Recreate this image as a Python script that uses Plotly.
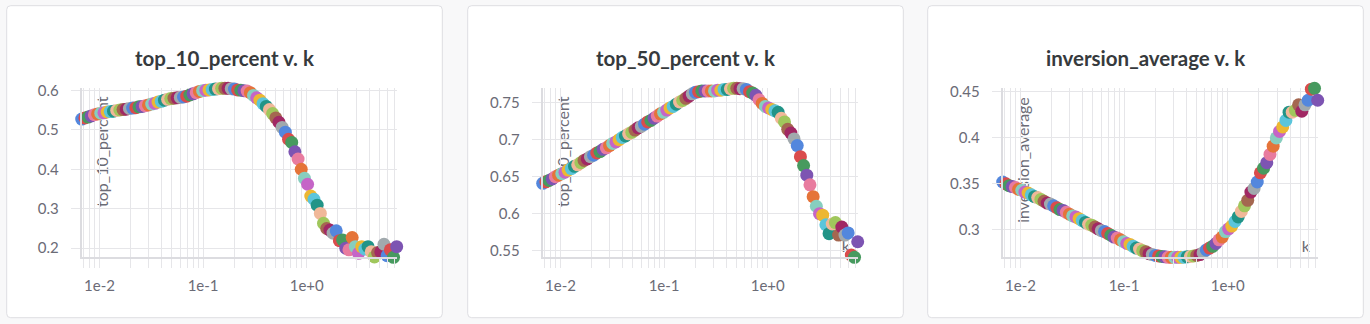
import math
import plotly.graph_objects as go

# ---------------- data ----------------
K = [0.006738, 0.007232, 0.007761, 0.00833, 0.00894, 0.009595, 0.0103, 0.01105, 0.01186, 0.01273,
     0.01366, 0.01467, 0.01574, 0.01689, 0.01813, 0.01946, 0.02089, 0.02242, 0.02406, 0.02582,
     0.02771, 0.02974, 0.03192, 0.03426, 0.03677, 0.03947, 0.04236, 0.04546, 0.04879, 0.05237,
     0.0562, 0.06032, 0.06474, 0.06948, 0.07457, 0.08004, 0.0859, 0.0922, 0.09895, 0.1062,
     0.114, 0.1223, 0.1313, 0.1409, 0.1512, 0.1623, 0.1742, 0.187, 0.2007, 0.2154,
     0.2312, 0.2481, 0.2663, 0.2858, 0.3067, 0.3292, 0.3533, 0.3792, 0.407, 0.4368,
     0.4688, 0.5032, 0.54, 0.5796, 0.622, 0.6676, 0.7165, 0.769, 0.8254, 0.8858,
     0.9508, 1.02, 1.095, 1.175, 1.262, 1.354, 1.453, 1.56, 1.674, 1.797,
     1.928, 2.069, 2.221, 2.384, 2.558, 2.746, 2.947, 3.163, 3.395, 3.643,
     3.91, 4.197, 4.504, 4.834, 5.189, 5.569, 5.977, 6.415, 6.885, 7.389]

TOP_10_PERCENT = [
    0.527, 0.530, 0.532, 0.535, 0.538, 0.540, 0.542, 0.543, 0.545, 0.546,
    0.547, 0.549, 0.550, 0.551, 0.552, 0.554, 0.555, 0.556, 0.558, 0.559,
    0.561, 0.563, 0.565, 0.567, 0.570, 0.572, 0.575, 0.577, 0.579, 0.580,
    0.581, 0.582, 0.583, 0.585, 0.588, 0.591, 0.594, 0.597, 0.599, 0.600,
    0.601, 0.602, 0.603, 0.604, 0.605, 0.605, 0.605, 0.604, 0.603, 0.601,
    0.600, 0.599, 0.598, 0.594, 0.587, 0.581, 0.575, 0.566, 0.559, 0.551,
    0.541, 0.530, 0.519, 0.506, 0.494, 0.476, 0.468, 0.444, 0.426, 0.400,
    0.377, 0.362, 0.332, 0.324, 0.309, 0.288, 0.263, 0.250, 0.246, 0.238,
    0.244, 0.219, 0.221, 0.200, 0.196, 0.227, 0.204, 0.187, 0.204, 0.198,
    0.204, 0.191, 0.178, 0.189, 0.191, 0.210, 0.181, 0.196, 0.177, 0.204]

TOP_50_PERCENT = [
    0.641, 0.643, 0.645, 0.647, 0.650, 0.652, 0.654, 0.656, 0.659, 0.661,
    0.664, 0.666, 0.669, 0.672, 0.674, 0.677, 0.679, 0.682, 0.684, 0.687,
    0.689, 0.692, 0.695, 0.697, 0.700, 0.703, 0.705, 0.708, 0.710, 0.713,
    0.716, 0.718, 0.721, 0.724, 0.726, 0.729, 0.732, 0.735, 0.737, 0.740,
    0.743, 0.745, 0.748, 0.751, 0.753, 0.756, 0.759, 0.762, 0.764, 0.765,
    0.766, 0.766, 0.766, 0.766, 0.766, 0.767, 0.767, 0.768, 0.768, 0.769,
    0.7695, 0.7695, 0.769, 0.769, 0.768, 0.765, 0.763, 0.760, 0.754, 0.749,
    0.745, 0.743, 0.741, 0.739, 0.737, 0.729, 0.724, 0.714, 0.709, 0.701,
    0.692, 0.677, 0.665, 0.652, 0.639, 0.623, 0.610, 0.600, 0.598, 0.585,
    0.573, 0.586, 0.588, 0.571, 0.582, 0.571, 0.574, 0.544, 0.541, 0.562]

INVERSION_AVERAGE = [
    0.352, 0.350, 0.348, 0.347, 0.346, 0.344, 0.343, 0.341, 0.340, 0.338,
    0.336, 0.335, 0.333, 0.331, 0.329, 0.328, 0.326, 0.324, 0.322, 0.321,
    0.319, 0.317, 0.315, 0.314, 0.312, 0.310, 0.308, 0.306, 0.305, 0.303,
    0.301, 0.299, 0.298, 0.296, 0.294, 0.292, 0.291, 0.289, 0.287, 0.285,
    0.284, 0.282, 0.280, 0.279, 0.277, 0.276, 0.274, 0.273, 0.272, 0.2715,
    0.271, 0.2705, 0.270, 0.270, 0.270, 0.270, 0.270, 0.270, 0.2705, 0.271,
    0.2715, 0.272, 0.273, 0.275, 0.278, 0.280, 0.282, 0.285, 0.289, 0.292,
    0.298, 0.301, 0.304, 0.309, 0.314, 0.320, 0.326, 0.332, 0.341, 0.345,
    0.352, 0.362, 0.367, 0.373, 0.382, 0.391, 0.400, 0.407, 0.412, 0.419,
    0.428, 0.428, 0.430, 0.436, 0.429, 0.436, 0.441, 0.453, 0.454, 0.441]

SERIES_NAMES = ["top_10_percent", "top_50_percent", "inversion_average"]
SERIES_VALUES = [TOP_10_PERCENT, TOP_50_PERCENT, INVERSION_AVERAGE]
X_NAME = "k"

X_TICK_VALUES = [0.007, 0.008, 0.009,
                 0.01, 0.02, 0.03, 0.04, 0.05, 0.06, 0.07, 0.08, 0.09,
                 0.1, 0.2, 0.3, 0.4, 0.5, 0.6, 0.7, 0.8, 0.9,
                 1, 2, 3, 4, 5, 6, 7]
X_TICK_TEXT = ["", "", "",
               "1e-2", "", "", "", "", "", "", "", "",
               "1e-1", "", "", "", "", "", "", "", "",
               "1e+0", "", "", "", "", "", ""]

Y_TICK_VALUES = [[0.2, 0.3, 0.4, 0.5, 0.6],
                 [0.55, 0.6, 0.65, 0.7, 0.75],
                 [0.3, 0.35, 0.4, 0.45]]
Y_TICK_TEXT = [["0.2", "0.3", "0.4", "0.5", "0.6"],
               ["0.55", "0.6", "0.65", "0.7", "0.75"],
               ["0.3", "0.35", "0.4", "0.45"]]

PALETTE = ['#5387DD', '#DA4C4C', '#479A5F', '#7D54B2', '#E87B9F', '#E57439',
           '#87CEBF', '#C565C7', '#EDB732', '#5BC5DB', '#229487', '#F0B899',
           '#A0C75C', '#A46750', '#A12864', '#A1A9AD']

# ---------------- layout geometry (pixels) ----------------
W, H = 1370, 324
CARD_LEFT = [6.7, 467.7, 927.7]
CARD_W = 435.6
CARD_TOP, CARD_BOTTOM = 5.7, 317.7
PLOT_LEFT = [81.7, 542.7, 1002.7]
PLOT_W = 315.0
PLOT_TOP, PLOT_BOTTOM = 88.3, 257.3
TITLE_Y = 58
YLABEL_CENTER_Y = [151.7, 151.7, 160.0]

FONT = "Lato, 'Source Sans Pro', 'Noto Sans', sans-serif"
GRID = "#e6e6e9"
AXIS = "#dcdce0"
LABEL_GRAY = "#6b6b76"
TICK_FONT = dict(family=FONT, size=15, color=LABEL_GRAY)


def px_x(x):
    return x / W


def px_y(y):
    return (H - y) / H


def rounded_rect(x0, y0, x1, y1, r=4):
    rx, ry = r / W, r / H
    X0, X1 = px_x(x0), px_x(x1)
    YT, YB = px_y(y0), px_y(y1)
    return (f"M {X0+rx},{YT} L {X1-rx},{YT} Q {X1},{YT} {X1},{YT-ry} "
            f"L {X1},{YB+ry} Q {X1},{YB} {X1-rx},{YB} L {X0+rx},{YB} "
            f"Q {X0},{YB} {X0},{YB+ry} L {X0},{YT-ry} Q {X0},{YT} {X0+rx},{YT} Z")


fig = go.Figure()
shapes = []
annotations = []
colors = [PALETTE[i % len(PALETTE)] for i in range(len(K))]
x_range = [math.log10(min(K)), math.log10(max(K))]

for p in range(3):
    n = "" if p == 0 else str(p + 1)
    vals = SERIES_VALUES[p]
    shapes.append(dict(type="path", xref="paper", yref="paper", layer="below",
                       path=rounded_rect(CARD_LEFT[p], CARD_TOP, CARD_LEFT[p] + CARD_W, CARD_BOTTOM),
                       fillcolor="white", line=dict(color="#dedee2", width=1)))
    fig.layout["xaxis" + n] = dict(
        domain=[px_x(PLOT_LEFT[p]), px_x(PLOT_LEFT[p] + PLOT_W)],
        anchor="y" + n, type="log", range=x_range,
        tickmode="array", tickvals=X_TICK_VALUES, ticktext=X_TICK_TEXT,
        showgrid=True, gridcolor=GRID, gridwidth=1,
        ticks="outside", ticklen=9, tickwidth=1, tickcolor=GRID,
        showline=True, linecolor=AXIS, linewidth=2,
        zeroline=False, tickfont=TICK_FONT, ticklabelstandoff=5,
        automargin=False, fixedrange=True)
    fig.layout["yaxis" + n] = dict(
        domain=[px_y(PLOT_BOTTOM), px_y(PLOT_TOP)],
        anchor="x" + n, range=[min(vals), max(vals)],
        tickmode="array", tickvals=Y_TICK_VALUES[p], ticktext=Y_TICK_TEXT[p],
        showgrid=True, gridcolor=GRID, gridwidth=1,
        ticks="outside", ticklen=9, tickwidth=1, tickcolor=GRID,
        showline=True, linecolor=AXIS, linewidth=2,
        zeroline=False, tickfont=TICK_FONT, ticklabelstandoff=9,
        automargin=False, fixedrange=True)
    # axis titles drawn beneath the plot (under the points)
    lx = PLOT_LEFT[p] + 20.0
    ly = YLABEL_CENTER_Y[p]
    shapes.append(dict(type="rect", xref="paper", yref="paper", layer="below",
                       x0=px_x(lx - 10), x1=px_x(lx + 10),
                       y0=px_y(ly + 10), y1=px_y(ly - 10),
                       line=dict(width=0), fillcolor="rgba(0,0,0,0)",
                       label=dict(text=SERIES_NAMES[p], textangle=-90,
                                  textposition="middle center",
                                  font=dict(family=FONT, size=16, color=LABEL_GRAY))))
    kx = PLOT_LEFT[p] + 303.0
    shapes.append(dict(type="rect", xref="paper", yref="paper", layer="below",
                       x0=px_x(kx - 8), x1=px_x(kx + 8),
                       y0=px_y(245.5 + 10), y1=px_y(245.5 - 10),
                       line=dict(width=0), fillcolor="rgba(0,0,0,0)",
                       label=dict(text=X_NAME, textposition="middle center",
                                  font=dict(family=FONT, size=16, color=LABEL_GRAY))))
    annotations.append(dict(xref="paper", yref="paper",
                            x=px_x(CARD_LEFT[p] + CARD_W / 2), y=px_y(TITLE_Y),
                            xanchor="center", yanchor="middle", showarrow=False,
                            text=SERIES_NAMES[p] + " v. " + X_NAME,
                            font=dict(family=FONT, size=20.5, color="#363a3d", weight=700)))
    fig.add_trace(go.Scatter(
        x=K, y=vals, mode="markers", xaxis="x" + n, yaxis="y" + n,
        marker=dict(color=colors, size=13, line=dict(width=0), opacity=1),
        cliponaxis=False, showlegend=False, hoverinfo="x+y"))

fig.update_layout(
    width=W, height=H, autosize=False,
    margin=dict(l=0, r=0, t=0, b=0, pad=0, autoexpand=False),
    paper_bgcolor="#f8f8f9", plot_bgcolor="rgba(0,0,0,0)",
    shapes=shapes, annotations=annotations, showlegend=False,
    font=dict(family=FONT))

fig.write_html("out.html", config={"displayModeBar": False})
